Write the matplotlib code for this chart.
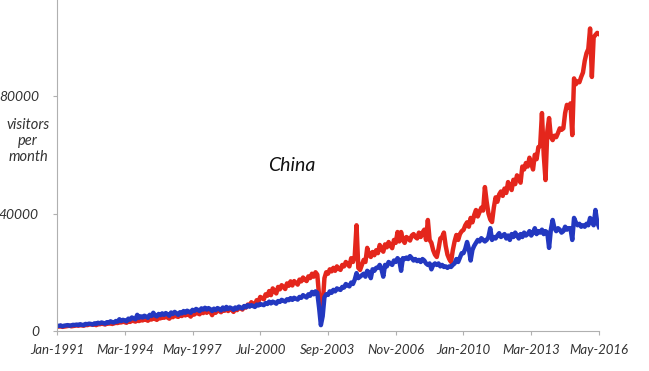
import matplotlib
matplotlib.use("Agg")
import matplotlib.pyplot as plt
import numpy as np

# monthly visitors, thousands, Jan-1991 .. May-2016
red_k = [
    1.6, 1.5, 1.7, 1.4, 1.5, 1.6, 1.7, 1.8, 1.6, 1.7, 1.8, 1.9,
    1.8, 2.0, 1.9, 1.8, 2.1, 2.0, 2.2, 2.3, 2.1, 2.2, 2.0, 2.4,
    2.3, 2.5, 2.4, 2.2, 2.6, 2.5, 2.7, 2.4, 2.6, 2.8, 2.7, 3.0,
    2.9, 3.2, 3.0, 2.8, 3.3, 3.1, 3.5, 3.4, 3.2, 3.6, 3.4, 3.8,
    3.6, 4.0, 3.8, 3.5, 4.2, 3.9, 4.4, 4.1, 3.8, 4.5, 4.3, 4.8,
    4.5, 4.9, 4.6, 4.2, 5.0, 4.7, 5.3, 5.0, 4.8, 5.5, 5.1, 5.7,
    5.3, 5.8, 5.5, 4.9, 6.0, 5.6, 6.3, 6.0, 5.7, 6.5, 6.1, 6.8,
    6.2, 7.0, 6.5, 5.4, 6.6, 6.2, 7.1, 6.8, 6.4, 7.3, 6.9, 7.5,
    6.8, 7.5, 7.2, 6.5, 7.6, 7.1, 8.0, 7.7, 7.3, 8.4, 8.0, 9.0,
    8.5, 9.8, 9.2, 8.8, 10.5, 10.0, 11.6, 11.2, 10.8, 12.5, 12.0, 13.6,
    12.2, 14.5, 13.5, 12.8, 15.0, 14.2, 15.6, 15.0, 14.3, 16.2, 15.4, 16.9,
    15.5, 17.0, 16.4, 15.8, 17.5, 16.9, 18.2, 17.5, 17.0, 18.6, 18.0, 19.5,
    18.5, 20.0, 19.2, 12.0, 5.4, 9.0, 18.0, 20.0, 19.5, 21.0, 20.3, 21.5,
    20.5, 22.0, 21.2, 20.8, 22.5, 22.0, 23.5, 22.8, 22.0, 24.8, 23.5, 25.5,
    36.0, 21.5, 20.8, 22.5, 24.2, 23.5, 28.3, 26.0, 25.2, 26.9, 25.8, 27.5,
    26.5, 29.3, 28.0, 27.0, 29.5, 28.5, 30.3, 29.0, 28.2, 31.0, 30.0, 33.7,
    30.5, 33.7, 31.0, 30.0, 32.0, 31.5, 30.8, 32.5, 33.0, 32.0, 31.5, 33.5,
    32.0, 33.5, 34.5, 31.0, 37.8, 31.0, 30.0, 27.5, 26.0, 25.2, 28.0, 31.5,
    32.0, 33.5, 29.0, 26.0, 24.5, 23.5, 27.5, 30.5, 32.7, 31.0, 33.0, 34.0,
    34.4, 36.0, 37.0, 35.5, 38.5, 37.0, 39.5, 41.2, 39.0, 40.5, 42.0, 41.0,
    49.0, 44.0, 40.0, 38.0, 37.1, 42.0, 45.5, 44.0, 46.5, 47.5, 46.0, 48.5,
    47.0, 50.7, 49.0, 48.0, 51.5, 50.0, 53.0, 52.0, 50.5, 56.0, 55.0, 57.2,
    56.0, 59.0, 57.0, 55.0, 60.0, 58.5, 62.6, 63.0, 74.2, 60.0, 51.4, 68.0,
    72.5, 66.0, 65.0, 66.5, 66.0, 67.4, 69.0, 68.5, 69.0, 74.2, 77.0, 76.0,
    77.5, 66.7, 86.0, 84.0, 85.0, 84.7, 86.5, 88.0, 92.0, 94.6, 96.0, 103.0,
    86.5, 100.0, 100.8, 101.5, 101.1,
]

blue_k = [
    1.8, 1.7, 1.9, 1.6, 1.8, 1.9, 2.0, 1.8, 1.9, 2.1, 2.0, 2.2,
    2.0, 2.3, 2.1, 2.0, 2.4, 2.3, 2.5, 2.4, 2.2, 2.6, 2.4, 2.8,
    2.6, 2.9, 2.7, 2.5, 3.0, 2.8, 3.3, 3.0, 2.9, 3.4, 3.2, 4.0,
    3.4, 3.8, 3.6, 3.3, 4.2, 3.9, 4.6, 4.3, 4.0, 5.5, 4.5, 5.0,
    4.6, 5.2, 4.9, 4.5, 5.5, 5.1, 6.2, 5.3, 5.0, 5.8, 5.4, 6.0,
    5.5, 6.1, 5.7, 5.2, 6.3, 5.8, 6.5, 6.0, 5.5, 6.4, 6.0, 6.8,
    6.2, 6.9, 6.6, 6.2, 7.2, 6.8, 7.5, 7.2, 6.8, 7.7, 7.3, 7.9,
    7.3, 7.8, 7.4, 6.8, 7.6, 7.1, 7.8, 7.5, 7.0, 8.0, 7.3, 8.2,
    7.5, 8.0, 7.7, 7.2, 8.0, 7.6, 8.3, 8.0, 7.7, 8.5, 8.1, 8.8,
    8.3, 8.8, 8.5, 8.2, 9.0, 8.7, 9.2, 9.0, 8.8, 9.5, 9.2, 10.0,
    9.4, 10.0, 9.7, 9.3, 10.2, 9.9, 10.6, 10.3, 10.0, 10.8, 10.5, 11.2,
    10.6, 11.3, 11.0, 10.7, 11.6, 11.3, 12.2, 11.8, 11.4, 12.5, 12.0, 13.3,
    12.5, 13.5, 13.0, 8.0, 2.0, 5.0, 11.5, 12.5, 12.3, 13.5, 13.0, 14.0,
    13.5, 14.5, 14.2, 14.0, 15.0, 14.8, 16.0, 15.5, 15.2, 16.5, 16.0, 17.5,
    19.7, 18.0, 18.5, 19.0, 19.5, 18.5, 20.5, 20.0, 18.0, 21.0, 20.5, 21.5,
    21.5, 22.5, 21.0, 18.5, 22.5, 22.0, 23.5, 23.0, 22.5, 24.0, 23.5, 24.8,
    24.0, 20.5, 24.8, 24.5, 25.0, 24.5, 25.5, 24.8, 24.0, 24.5, 23.8, 24.2,
    23.5, 24.5, 24.0, 23.0, 22.5, 23.0, 21.0, 22.5, 23.0, 22.5, 23.0, 22.0,
    22.5, 21.8, 22.0, 21.5, 22.0, 21.8, 22.5, 23.0, 24.5, 23.5, 25.0, 26.5,
    26.5, 28.0, 30.3, 28.0, 24.0, 27.6, 29.0, 30.0, 31.0, 30.5, 31.6, 31.0,
    30.5, 31.0, 32.0, 35.0, 31.0, 32.0, 31.5, 32.5, 33.3, 32.0, 32.5, 33.0,
    31.5, 32.5, 31.0, 33.0, 32.0, 33.5, 32.5, 31.5, 33.0, 32.0, 33.5, 32.5,
    33.0, 34.0, 32.5, 33.5, 35.0, 33.0, 34.0, 33.5, 34.5, 33.0, 34.0, 33.5,
    28.3, 34.5, 37.8, 35.0, 34.0, 35.0, 34.5, 33.5, 34.0, 35.5, 34.5, 35.0,
    35.0, 31.0, 38.5, 37.0, 36.0, 36.5, 35.5, 36.0, 35.5, 36.5, 36.0, 38.5,
    37.0, 36.0, 41.2, 37.0, 35.4,
]

tick_labels = ["Jan-1991", "Mar-1994", "May-1997", "Jul-2000", "Sep-2003",
               "Nov-2006", "Jan-2010", "Mar-2013", "May-2016"]
y_ticks = [0, 40000, 80000]

red = np.array(red_k) * 1000
blue = np.array(blue_k) * 1000
months = np.arange(len(red))

fig = plt.figure(figsize=(6.49, 3.71), dpi=100)
ax = fig.add_axes([57 / 649, 40 / 371, 542 / 649, 331 / 371])

ax.plot(months, red, color="#e4261c", lw=3.2, solid_joinstyle="round")
ax.plot(months, blue, color="#2338c0", lw=3.2, solid_joinstyle="round")

ax.set_xlim(0, len(red) - 1)
ax.set_ylim(0, 112700)

ax.set_xticks(months[::38])
ax.set_xticklabels(tick_labels, fontstyle="italic", fontfamily="Lato",
                   fontsize=9.5, color="#333333")
ax.set_yticks(y_ticks)
ax.set_yticklabels([str(v) for v in y_ticks], fontstyle="italic",
                   fontfamily="Lato", fontsize=10, color="#333333")

for side in ("top", "right"):
    ax.spines[side].set_visible(False)
for side in ("left", "bottom"):
    ax.spines[side].set_color("#b0b0b0")
    ax.spines[side].set_linewidth(0.8)
ax.tick_params(axis="x", length=3, width=0.8, color="#b0b0b0", pad=6)
ax.tick_params(axis="y", length=3, width=0.8, color="#b0b0b0", pad=10)

fig.text(28 / 649, 1 - 141 / 371, "visitors\nper\nmonth", ha="center",
         va="center", fontstyle="italic", fontfamily="Lato", fontsize=10.5,
         color="#333333", linespacing=1.2)
ax.text(0.433, 0.5, "China", transform=ax.transAxes, ha="center",
        va="center", fontstyle="italic", fontfamily="Lato", fontsize=14,
        color="#111111")

fig.savefig("out.png", dpi=100)
